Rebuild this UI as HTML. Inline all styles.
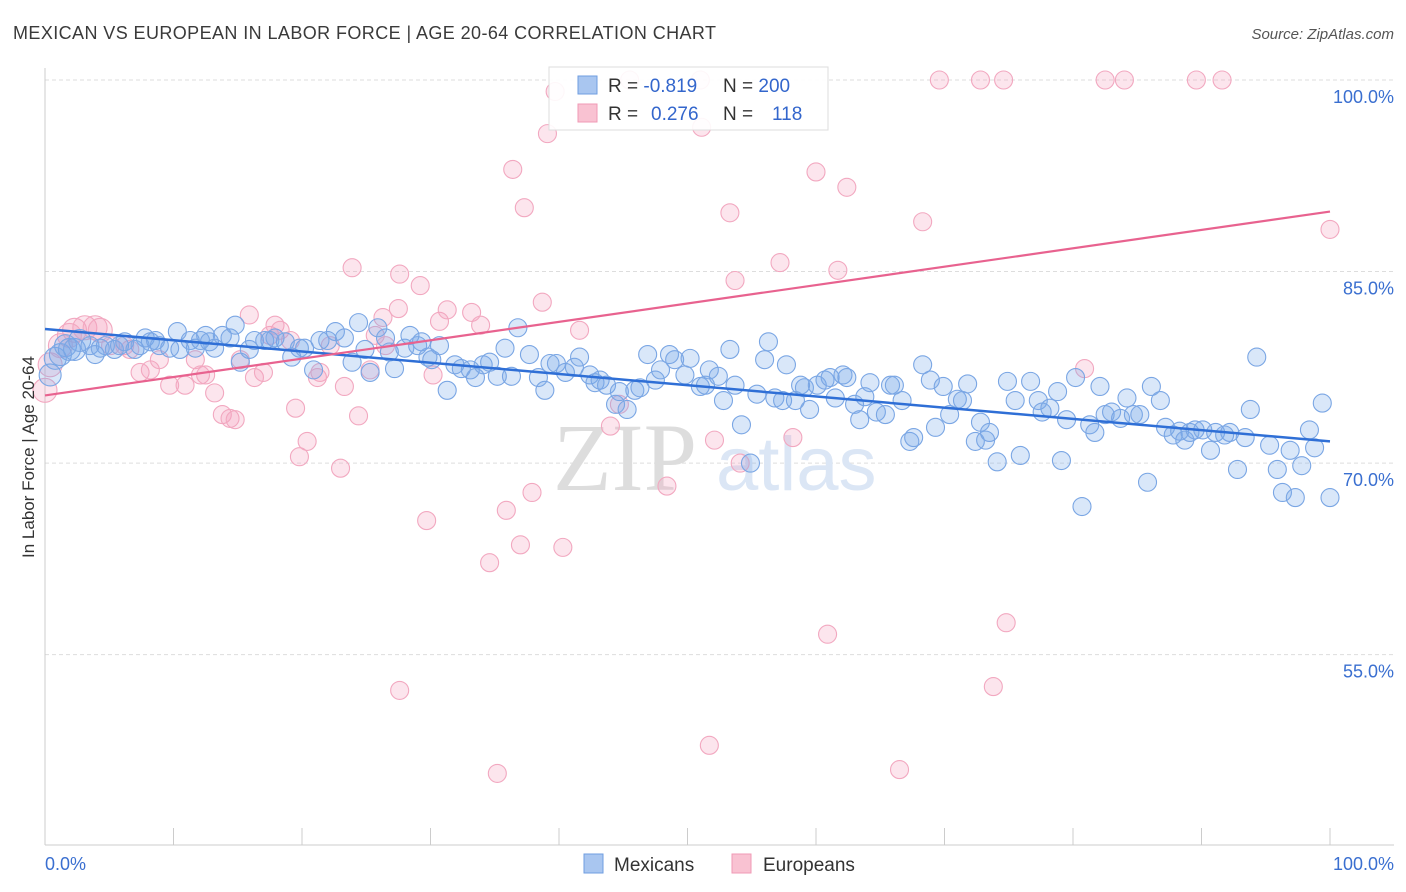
<!DOCTYPE html>
<html><head><meta charset="utf-8"><style>
body{margin:0;background:#fff;font-family:"Liberation Sans",sans-serif}
svg{display:block}
</style></head><body>
<svg id="chart" width="1406" height="892" xmlns="http://www.w3.org/2000/svg" font-family="Liberation Sans, sans-serif">
<text x="13" y="39" font-size="18" fill="#3a3a3a" textLength="703">MEXICAN VS EUROPEAN IN LABOR FORCE | AGE 20-64 CORRELATION CHART</text>
<text x="1394" y="39" font-size="15" fill="#555" text-anchor="end" font-style="italic">Source: ZipAtlas.com</text>
<g id="grid"></g>
<g>
<text x="553" y="490" font-size="96" font-family="Liberation Serif, serif" fill="#ddd">ZIP</text>
<text x="716" y="490" font-size="76" fill="#dbe6f5">atlas</text>
</g>
<line x1="45" y1="68" x2="45" y2="845" stroke="#ccc"/>
<line x1="45" y1="845" x2="1394" y2="845" stroke="#ccc"/>
<g id="ticks"></g>
<g id="pts"></g>
<g id="trends"></g>
<text transform="translate(34,457) rotate(-90)" font-size="17" fill="#333" text-anchor="middle">In Labor Force | Age 20-64</text>
<text x="45" y="870" font-size="18" fill="#3a6fd0">0.0%</text>
<text x="1394" y="870" font-size="18" fill="#3a6fd0" text-anchor="end">100.0%</text>
<g>
<rect x="549" y="67" width="279" height="63" fill="#fff" fill-opacity="0.9" stroke="#ddd"/>
<rect x="578" y="76" width="19" height="18" fill="#a9c6f0" stroke="#6f9ee0"/>
<rect x="578" y="104" width="19" height="18" fill="#f9c2d2" stroke="#f09ab5"/>
<text x="608" y="92" font-size="19" fill="#333">R = <tspan fill="#3366cc">-0.819</tspan><tspan x="723">N = </tspan><tspan fill="#3366cc">200</tspan></text>
<text x="608" y="120" font-size="19" fill="#333">R = <tspan x="651" fill="#3366cc">0.276</tspan><tspan x="723">N = </tspan><tspan x="772" fill="#3366cc">118</tspan></text>
</g>
<g>
<rect x="584" y="854" width="19" height="19" fill="#a9c6f0" stroke="#6f9ee0"/>
<text x="614" y="871" font-size="19" fill="#333">Mexicans</text>
<rect x="732" y="854" width="19" height="19" fill="#f9c2d2" stroke="#f09ab5"/>
<text x="763" y="871" font-size="19" fill="#333">Europeans</text>
</g>
</svg>
<script>
const yTicks=[100,85,70,55];
const yTickLabels=["100.0%","85.0%","70.0%","55.0%"];
const xTicks=[0,10,20,30,40,50,60,70,80,90,100];
const blueX=[0.4,0.8,1.2,1.6,1.9,2.3,2.7,3.5,3.9,4.3,4.7,5.4,5.8,6.2,7.0,7.4,7.8,8.2,8.6,8.9,9.7,10.3,10.5,11.3,11.7,12.1,12.5,12.8,13.2,13.8,14.4,14.8,15.2,15.9,16.3,17.1,17.5,17.9,18.7,19.2,19.8,20.2,20.9,21.4,22.0,22.6,23.3,23.9,24.4,24.9,25.3,25.9,26.5,26.8,27.2,28.0,28.4,29.0,29.3,29.8,30.1,30.7,31.3,31.9,32.4,33.1,33.5,34.1,34.6,35.2,35.8,36.3,36.8,37.7,38.4,38.9,39.3,39.8,40.5,41.2,41.6,42.4,42.8,43.2,43.7,44.4,44.7,45.3,45.9,46.3,46.9,47.5,47.9,48.6,49.0,49.8,50.2,51.0,51.4,51.7,52.4,52.8,53.3,53.7,54.2,54.9,55.4,56.0,56.3,56.8,57.4,57.7,58.4,58.8,59.1,59.5,60.1,60.7,61.1,61.5,62.1,62.4,63.0,63.4,63.8,64.2,64.7,65.4,65.8,66.1,66.7,67.3,67.6,68.3,68.9,69.3,69.9,70.4,71.0,71.4,71.8,72.4,72.8,73.2,73.5,74.1,74.9,75.5,75.9,76.7,77.3,77.6,78.2,78.8,79.1,79.5,80.2,80.7,81.3,81.7,82.1,82.5,83.0,83.7,84.2,84.7,85.2,85.8,86.1,86.8,87.2,87.8,88.3,88.7,89.1,89.5,90.1,90.7,91.1,91.8,92.2,92.8,93.4,93.8,94.3,95.3,95.9,96.3,96.9,97.3,97.8,98.4,98.8,99.4,100];
const blueY=[76.9,78.2,78.5,79.2,78.9,78.9,79.6,79.2,78.5,79.0,79.2,78.9,79.2,79.5,78.9,79.2,79.8,79.5,79.6,79.2,79.0,80.3,78.9,79.6,79.0,79.6,80.0,79.5,79.0,80.0,79.8,80.8,77.9,78.9,79.6,79.6,79.6,79.8,79.5,78.3,79.0,79.0,77.3,79.6,79.6,80.3,79.8,77.9,81.0,78.9,77.1,80.6,79.8,78.7,77.4,79.0,80.0,79.2,79.5,78.3,78.1,79.2,75.7,77.7,77.4,77.3,76.7,77.7,77.9,76.8,79.0,76.8,80.6,78.5,76.7,75.7,77.8,77.8,77.1,77.5,78.3,76.9,76.3,76.5,76.1,74.6,75.6,74.2,75.7,75.9,78.5,76.5,77.3,78.5,78.1,76.9,78.2,76.0,76.1,77.3,76.8,74.9,78.9,76.1,73.0,70.0,75.4,78.1,79.5,75.1,74.9,77.7,74.9,76.1,75.9,74.2,76.1,76.5,76.7,75.1,76.9,76.7,74.6,73.4,75.2,76.3,74.0,73.8,76.1,76.1,74.9,71.7,72.0,77.7,76.5,72.8,76.0,73.8,75.0,74.9,76.2,71.7,73.2,71.8,72.4,70.1,76.4,74.9,70.6,76.4,74.9,74.0,74.3,75.6,70.2,73.4,76.7,66.6,73.0,72.4,76.0,73.8,74.0,73.5,75.1,73.8,73.8,68.5,76.0,74.9,72.8,72.2,72.5,71.8,72.4,72.6,72.6,71.0,72.4,72.2,72.4,69.5,72.0,74.2,78.3,71.4,69.5,67.7,71.0,67.3,69.8,72.6,71.2,74.7,67.3];
const pinkX=[0,0.4,1.2,2.3,3.1,3.9,4.3,1.9,5.1,6.2,6.6,7.4,8.2,8.9,9.7,10.9,11.7,12.1,12.5,13.2,13.8,14.4,14.8,15.2,15.9,16.3,17.0,17.5,17.9,18.3,19.1,19.5,19.8,20.4,21.2,21.4,22.2,23.0,23.3,23.9,24.4,25.3,25.7,26.3,26.5,27.5,27.6,27.6,29.2,29.7,30.2,30.7,31.3,33.2,33.9,34.6,35.2,35.9,36.4,37.3,37.9,37.0,38.7,39.1,39.7,40.3,41.6,44.0,44.7,45.5,48.4,51.0,51.1,51.7,52.1,53.3,54.1,53.7,57.2,58.2,60.0,60.9,61.7,62.4,66.5,68.3,69.6,72.8,74.6,74.8,73.8,80.9,82.5,84.0,89.6,91.6,100];
const pinkY=[75.7,77.7,79.2,80.4,80.6,80.6,80.4,80.0,79.2,79.2,78.9,77.1,77.3,78.1,76.1,76.1,78.1,76.9,76.9,75.5,73.8,73.5,73.4,78.1,81.6,76.7,77.1,80.0,80.8,80.4,79.6,74.3,70.5,71.7,76.7,77.1,79.2,69.6,76.0,85.3,73.7,77.3,80.0,81.4,79.2,82.1,84.8,52.2,83.9,65.5,76.9,81.1,82.0,81.8,80.8,62.2,45.7,66.3,93.0,90.0,67.7,63.6,82.6,95.8,99.1,63.4,80.4,72.9,74.6,100,68.2,100,96.3,47.9,71.8,89.6,70.0,84.3,85.7,72.0,92.8,56.6,85.1,91.6,46.0,88.9,100,100,100,57.5,52.5,77.4,100,100,100,100,88.3];
const blueTrend=[80.5,71.7];
const pinkTrend=[75.3,89.7];
const NS='http://www.w3.org/2000/svg';
const X=v=>45+v*12.85, Y=v=>80+(100-v)*12.77;
function mk(tag,at,parent){const e=document.createElementNS(NS,tag);for(const k in at)e.setAttribute(k,at[k]);parent.appendChild(e);return e;}
const grid=document.getElementById('grid'),ticks=document.getElementById('ticks'),pts=document.getElementById('pts'),tr=document.getElementById('trends');
yTicks.forEach((t,i)=>{
 const l=mk('line',{x1:45,x2:1394,y1:Y(t),y2:Y(t),stroke:'#ddd','stroke-dasharray':'4,3'},grid);
 
 
 const tx=mk('text',{x:1394,y:Y(t)+23,'font-size':18,fill:'#3a6fd0','text-anchor':'end'},grid);
 tx.textContent=yTickLabels[i];
 
 
});
xTicks.forEach(t=>{
 const l=mk('line',{x1:X(t),x2:X(t),y1:828,y2:845,stroke:'#ccc'},ticks);
 
 
});
pinkX.forEach((x,i)=>{
 const r=x<5?12:9;
 const c=mk('circle',{cx:X(x),cy:Y(pinkY[i]),r:r,fill:'rgba(245,160,190,0.28)',stroke:'#f2a8c0','stroke-width':1.1},pts);
 
 
});
blueX.forEach((x,i)=>{
 const r=x<3?11:9;
 const c=mk('circle',{cx:X(x),cy:Y(blueY[i]),r:r,fill:'rgba(120,170,235,0.28)',stroke:'#7aa6e4','stroke-width':1.1},pts);
 
 
});
const bl=mk('line',{x1:X(0),y1:Y(blueTrend[0]),x2:X(100),y2:Y(blueTrend[1]),stroke:'#2f6fd6','stroke-width':2.5},tr);


const pl=mk('line',{x1:X(0),y1:Y(pinkTrend[0]),x2:X(100),y2:Y(pinkTrend[1]),stroke:'#e8628f','stroke-width':2.2},tr);


</script>
</body></html>
